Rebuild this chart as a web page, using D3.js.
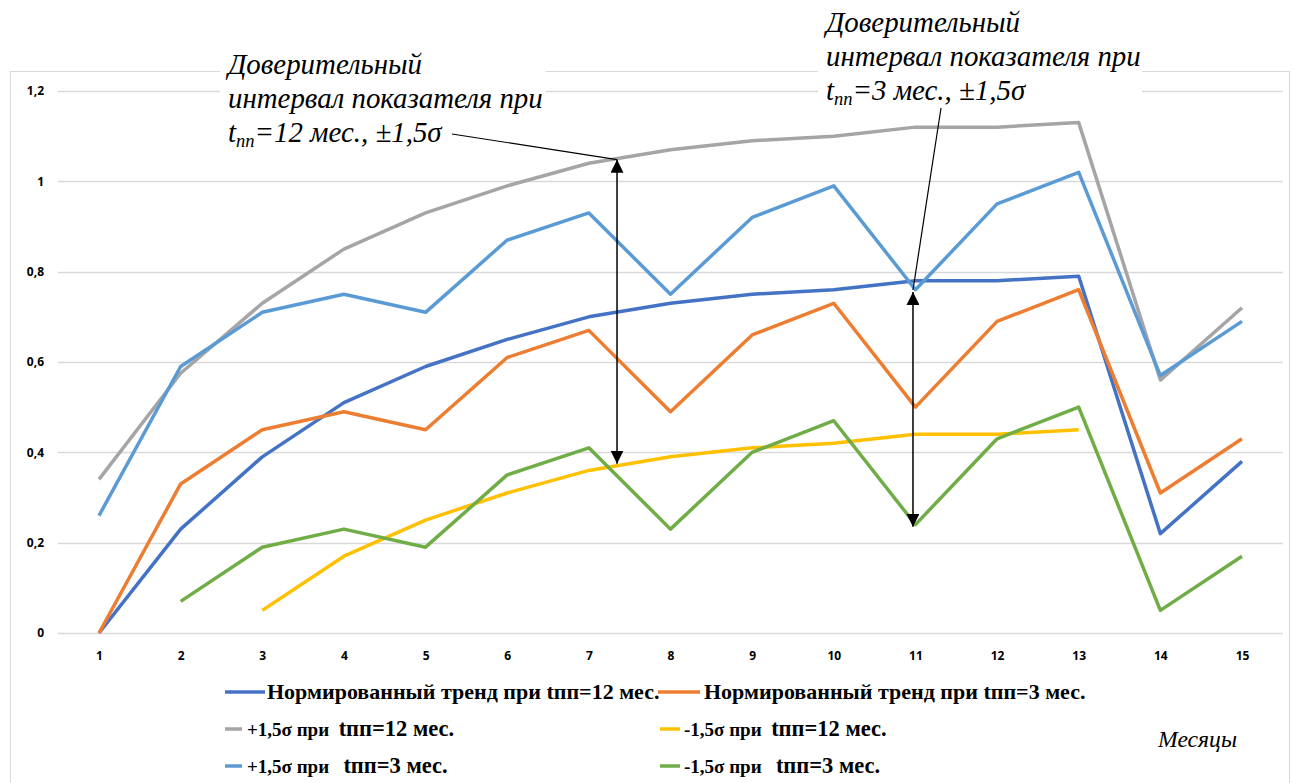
<!DOCTYPE html>
<html>
<head>
<meta charset="utf-8">
<script src="https://cdn.jsdelivr.net/npm/d3@7"></script>
<style>
  body { margin: 0; background: #fff; }
  .tick text { font-family: "Open Sans", sans-serif; font-weight: bold; font-size: 12px; fill: #000; }
  .serif { font-family: "Liberation Serif", "Times New Roman", Times, serif; }
</style>
</head>
<body>
<div id="chart"></div>
<script>
// months on the x axis
const months = [1, 2, 3, 4, 5, 6, 7, 8, 9, 10, 11, 12, 13, 14, 15];
const yTicks = [0, 0.2, 0.4, 0.6, 0.8, 1, 1.2];

// series values (null = no point)
const trend12 = [0, 0.23, 0.39, 0.51, 0.59, 0.65, 0.70, 0.73, 0.75, 0.76, 0.78, 0.78, 0.79, 0.22, 0.38];
const trend3 = [0, 0.33, 0.45, 0.49, 0.45, 0.61, 0.67, 0.49, 0.66, 0.73, 0.50, 0.69, 0.76, 0.31, 0.43];
const plus12 = [0.34, 0.575, 0.73, 0.85, 0.93, 0.99, 1.04, 1.07, 1.09, 1.10, 1.12, 1.12, 1.13, 0.56, 0.72];
const minus12 = [null, null, 0.05, 0.17, 0.25, 0.31, 0.36, 0.39, 0.41, 0.42, 0.44, 0.44, 0.45, null, null];
const plus3 = [0.26, 0.59, 0.71, 0.75, 0.71, 0.87, 0.93, 0.75, 0.92, 0.99, 0.76, 0.95, 1.02, 0.57, 0.69];
const minus3 = [null, 0.07, 0.19, 0.23, 0.19, 0.35, 0.41, 0.23, 0.40, 0.47, 0.24, 0.43, 0.50, 0.05, 0.17];

const seriesNames = [
  "Нормированный тренд при tпп=12 мес.",
  "Нормированный тренд при tпп=3 мес.",
  "+1,5σ при  tпп=12 мес.",
  "-1,5σ при  tпп=12 мес.",
  "+1,5σ при   tпп=3 мес.",
  "-1,5σ при   tпп=3 мес."
];

// interval arrows: [month, top value, bottom value]
const arrows12 = [7.345, 1.048, 0.375];
const arrows3 = [10.97, 0.755, 0.235];

const series = [
  { values: trend12, color: "#4472C4" },
  { values: trend3, color: "#ED7D31" },
  { values: plus12, color: "#A5A5A5" },
  { values: minus12, color: "#FFC000" },
  { values: plus3, color: "#5B9BD5" },
  { values: minus3, color: "#70AD47" }
];

const W = 1294, H = 783;
const svg = d3.select("#chart").append("svg")
  .attr("width", W).attr("height", H)
  .style("display", "block");

// chart frame
svg.append("rect")
  .attr("x", 10.5).attr("y", 71.5)
  .attr("width", 1279).attr("height", 720)
  .attr("fill", "none").attr("stroke", "#d9d9d9");

const x = d3.scaleLinear().domain([1, 15]).range([99, 1242]);
const y = d3.scaleLinear().domain([0, 1.2]).range([633, 91]);

// gridlines
svg.append("g")
  .selectAll("line")
  .data(yTicks)
  .join("line")
  .attr("x1", 58).attr("x2", 1283)
  .attr("y1", d => Math.round(y(d)) + 0.5)
  .attr("y2", d => Math.round(y(d)) + 0.5)
  .attr("stroke", "#d9d9d9").attr("stroke-width", 1.3);

// y axis labels
const yAxis = svg.append("g")
  .attr("transform", "translate(44,0)")
  .call(d3.axisLeft(y).tickValues(yTicks)
    .tickFormat(d => String(d).replace(".", ","))
    .tickSize(0).tickPadding(0));
yAxis.select(".domain").remove();

// x axis labels
const xAxis = svg.append("g")
  .attr("transform", "translate(0,651)")
  .call(d3.axisBottom(x).tickValues(months).tickFormat(d3.format("d"))
    .tickSize(0).tickPadding(0));
xAxis.select(".domain").remove();
xAxis.selectAll("text").attr("dy", "0.71em");

// lines
const line = d3.line()
  .defined(d => d != null)
  .x((d, i) => x(months[i]))
  .y(d => y(d));

svg.append("g")
  .selectAll("path")
  .data(series)
  .join("path")
  .attr("fill", "none")
  .attr("stroke", d => d.color)
  .attr("stroke-width", 3.5)
  .attr("stroke-linejoin", "round")
  .attr("d", d => line(d.values));

// arrow markers
const defs = svg.append("defs");
defs.append("marker")
  .attr("id", "arr")
  .attr("viewBox", "0 0 10 10")
  .attr("refX", 10).attr("refY", 5)
  .attr("markerWidth", 13).attr("markerHeight", 13)
  .attr("markerUnits", "userSpaceOnUse")
  .attr("orient", "auto-start-reverse")
  .append("path").attr("d", "M0,0 L10,5 L0,10 Z").attr("fill", "#000");

[arrows12, arrows3].forEach(a => {
  svg.append("line")
    .attr("x1", x(a[0])).attr("x2", x(a[0]))
    .attr("y1", y(a[1])).attr("y2", y(a[2]))
    .attr("stroke", "#000").attr("stroke-width", 1.5)
    .attr("marker-start", "url(#arr)")
    .attr("marker-end", "url(#arr)");
});

// annotation text blocks
function note(px, py, lineGap, sub, boxW) {
  const g = svg.append("g");
  g.append("rect")
    .attr("x", px - 8).attr("y", py - 30)
    .attr("width", boxW).attr("height", lineGap * 2 + 44)
    .attr("fill", "#fff");
  const t = g.append("text")
    .attr("class", "serif")
    .attr("font-style", "italic")
    .attr("font-size", 28)
    .attr("fill", "#000");
  t.append("tspan").attr("x", px).attr("y", py).text("Доверительный");
  const l2 = t.append("tspan").attr("x", px).attr("y", py + lineGap).text("интервал показателя при");
  // fit the font so that the middle line is as wide as in the picture
  const fs = 28 * 315 / l2.node().getComputedTextLength();
  t.attr("font-size", fs);
  const l3 = t.append("tspan").attr("x", px).attr("y", py + lineGap * 2);
  l3.append("tspan").text("t");
  l3.append("tspan").attr("font-size", fs * 0.64).attr("dy", 5).text("пп");
  l3.append("tspan").attr("dy", -5).text(sub);
  return g;
}

note(228, 74, 34, "=12 мес., ±1,5σ", 326);
note(826, 32, 34, "=3 мес., ±1,5σ", 324);

// leader lines
svg.append("line")
  .attr("x1", 452).attr("y1", 134)
  .attr("x2", x(arrows12[0])).attr("y2", y(arrows12[1]))
  .attr("stroke", "#000").attr("stroke-width", 1.2);
svg.append("line")
  .attr("x1", 941).attr("y1", 108)
  .attr("x2", x(arrows3[0])).attr("y2", y(arrows3[1]) - 2)
  .attr("stroke", "#000").attr("stroke-width", 1.2);

// legend
const legendItems = [
  { i: 0, lx: 225, lw: 40, tx: 267, ty: 692 },
  { i: 1, lx: 658, lw: 42, tx: 704, ty: 692 },
  { i: 2, lx: 225, lw: 17, tx: 247, ty: 729 },
  { i: 3, lx: 660, lw: 20, tx: 684, ty: 729 },
  { i: 4, lx: 225, lw: 17, tx: 247, ty: 766 },
  { i: 5, lx: 660, lw: 20, tx: 684, ty: 766 }
];

const lg = svg.append("g");
legendItems.forEach(d => {
  lg.append("line")
    .attr("x1", d.lx).attr("x2", d.lx + d.lw)
    .attr("y1", d.ty).attr("y2", d.ty)
    .attr("stroke", series[d.i].color).attr("stroke-width", 3.5);
  const name = seriesNames[d.i];
  const t = lg.append("text")
    .attr("class", "serif")
    .attr("x", d.tx).attr("y", d.ty + 7)
    .attr("font-weight", "bold")
    .attr("font-size", 22)
    .attr("fill", "#000")
    .style("white-space", "pre");
  if (d.i < 2) {
    t.text(name);
  } else {
    const k = name.indexOf("tпп");
    t.append("tspan").attr("font-size", 19).text(name.slice(0, k));
    t.append("tspan").attr("font-size", 22.5).text(name.slice(k));
  }
});

// x axis title
const mt = svg.append("text")
  .attr("class", "serif")
  .attr("x", 1158).attr("y", 747)
  .attr("font-style", "italic")
  .attr("font-size", 23)
  .attr("fill", "#000")
  .text("Месяцы");
mt.attr("font-size", 23 * 79 / mt.node().getComputedTextLength());
</script>
</body>
</html>
